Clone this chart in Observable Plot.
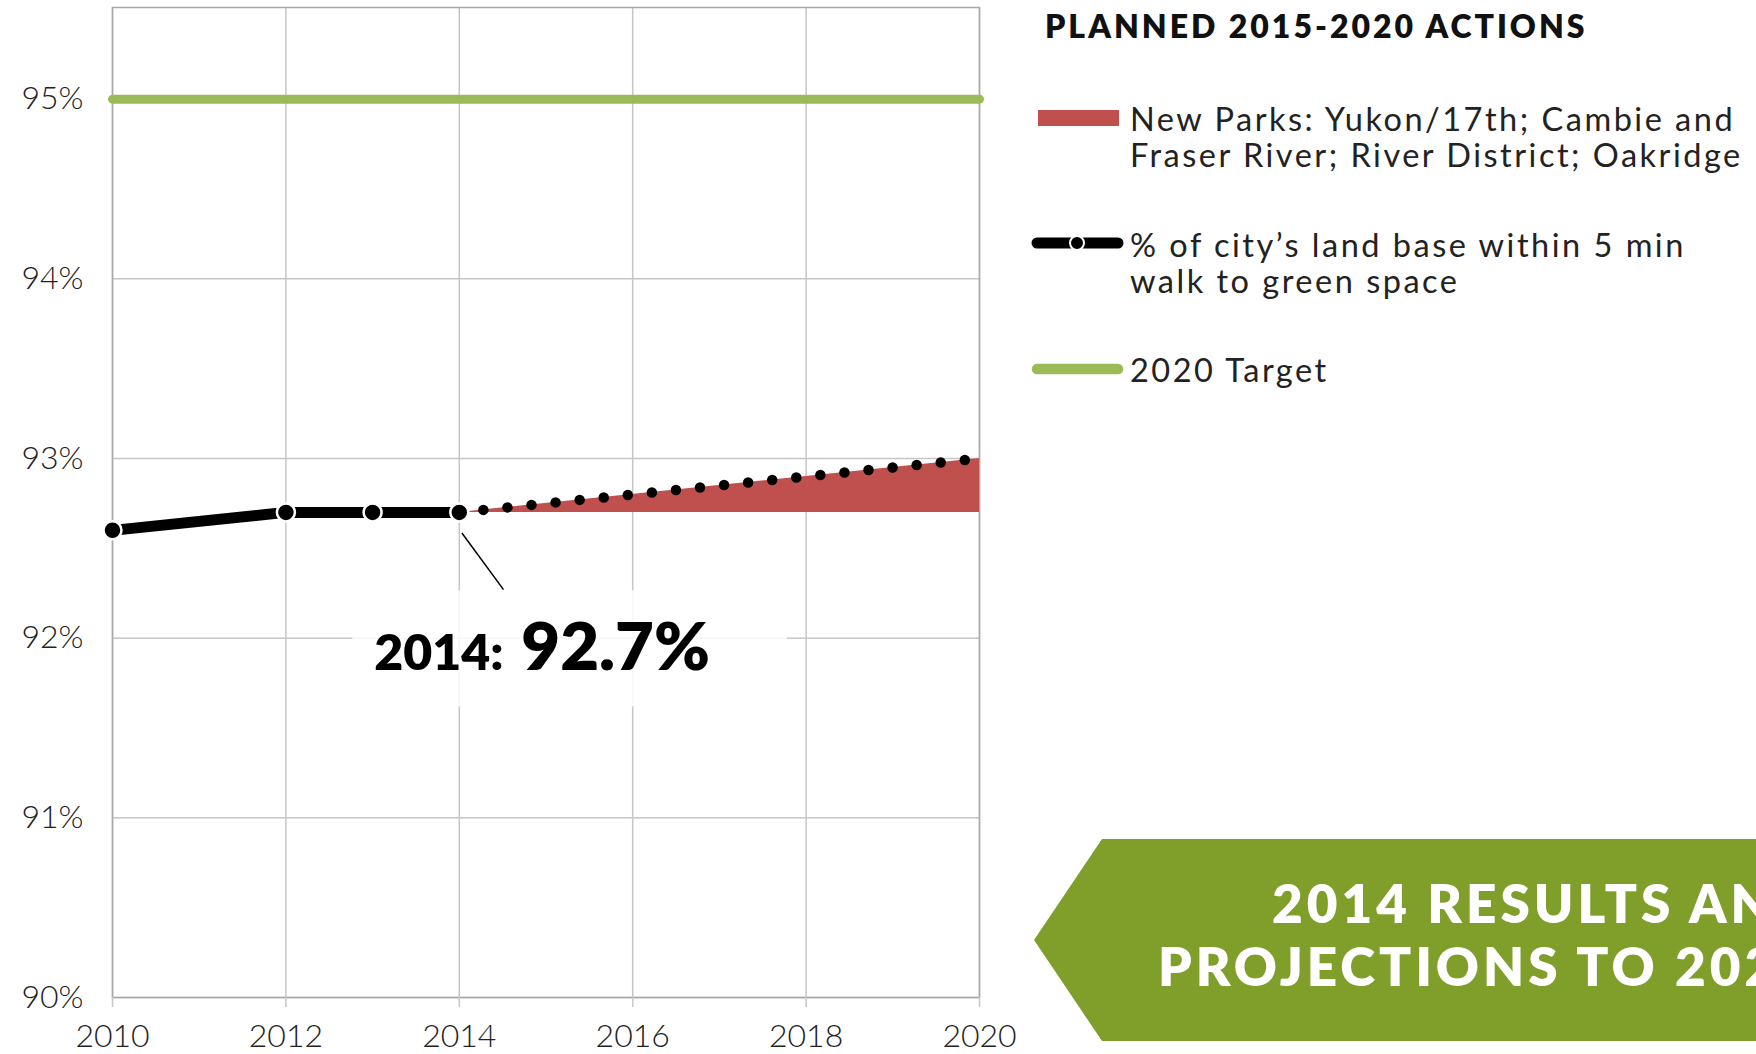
<!DOCTYPE html>
<html>
<head>
<meta charset="utf-8">
<script src="https://cdn.jsdelivr.net/npm/d3@7"></script>
<script src="https://cdn.jsdelivr.net/npm/@observablehq/plot@0.6"></script>
<style>
  html, body { margin: 0; padding: 0; background: #fff; overflow: hidden; }
  #wrap { position: relative; width: 1756px; height: 1054px; overflow: hidden; font-family: Lato, sans-serif; }
  #wrap > svg { position: absolute; left: 0; top: 0; }
</style>
</head>
<body>
<div id="wrap"></div>
<script>
// ---- data ----
const years = [2010, 2012, 2013, 2014];
const shares = [92.6, 92.7, 92.7, 92.7];
const projYears = [2014, 2020];
const projShares = [92.7, 93.0];
const projBase = [92.7, 92.7];
const targetYears = [2010, 2020];
const targetShares = [95, 95];
const xTicks = [2010, 2012, 2014, 2016, 2018, 2020];
const yTicks = [90, 91, 92, 93, 94, 95];
const annoYear = [2014];
const annoValue = [92.7];
const annoLabel = ["2014:"];
const annoBig = ["92.7%"];
const legendTitle = "PLANNED 2015-2020 ACTIONS";
const legendLabels = [
  ["New Parks: Yukon/17th; Cambie and", "Fraser River; River District; Oakridge"],
  ["% of city\u2019s land base within 5 min", "walk to green space"],
  ["2020 Target"]
];
const bannerLines = ["2014 RESULTS AND", "PROJECTIONS TO 2020"];

// ---- colours ----
const RED = "#C0504D", GREEN = "#9BBB59", BANNER = "#7F9F2A", GRID = "#c6c6c6";

const actual = years.map((x, i) => ({x, y: shares[i]}));
const proj = projYears.map((x, i) => ({x, y: projShares[i], y0: projBase[i]}));
const target = targetYears.map((x, i) => ({x, y: targetShares[i]}));
const anno = annoYear.map((x, i) => ({x, y: annoValue[i], a: annoLabel[i], b: annoBig[i]}));

const chart = Plot.plot({
  width: 1756, height: 1054,
  marginLeft: 112, marginRight: 777, marginTop: 7, marginBottom: 57,
  x: {type: "linear", domain: [2010, 2020]},
  y: {domain: [90, 95.51]},
  style: {fontFamily: "Lato, sans-serif", fontSize: "32px", color: "#222", background: "transparent"},
  marks: [
    Plot.gridX(xTicks, {stroke: GRID, strokeOpacity: 1, strokeWidth: 1.5}),
    Plot.gridY(yTicks, {stroke: GRID, strokeOpacity: 1, strokeWidth: 1.5}),
    Plot.frame({stroke: "#a8a8a8", strokeWidth: 1.5}),
    Plot.axisX({ticks: xTicks, tickFormat: d => String(d), tickSize: 10, tickPadding: 17,
      stroke: GRID, strokeWidth: 1.5, fill: "#222", fontSize: 32, fontWeight: 300, letterSpacing: 1.2, label: null}),
    Plot.axisY({ticks: yTicks, tickFormat: d => d + "%", tickSize: 0, tickPadding: 29,
      fill: "#222", fontSize: 32, fontWeight: 300, letterSpacing: 1.2, label: null}),
    Plot.areaY(proj, {x: "x", y1: "y0", y2: "y", fill: RED}),
    Plot.line(target, {x: "x", y: "y", stroke: GREEN, strokeWidth: 9}),
    Plot.line(actual, {x: "x", y: "y", stroke: "black", strokeWidth: 11}),
    Plot.line(proj, {x: "x", y: "y", stroke: "black", strokeWidth: 10.5, strokeLinecap: "round", strokeDasharray: "0 24.2"}),
    Plot.dot(actual, {x: "x", y: "y", r: 9, fill: "black", stroke: "white", strokeWidth: 2.5}),
    Plot.link(anno, {x1: d => d.x + 0.03, y1: d => d.y - 0.115, x2: d => d.x + 0.51, y2: d => d.y - 0.43, stroke: "black", strokeWidth: 1.5}),
    Plot.text(anno, {x: "x", y: "y", text: "a", dx: -85, dy: 158, textAnchor: "start", lineAnchor: "bottom",
      fontSize: 50, fontWeight: 800, fill: "black", letterSpacing: 2, className: "anno-text"}),
    Plot.text(anno, {x: "x", y: "y", text: "b", dx: 62, dy: 158, textAnchor: "start", lineAnchor: "bottom",
      fontSize: 67, fontWeight: 800, fill: "black", letterSpacing: 3, className: "anno-text"})
  ]
});
document.getElementById("wrap").appendChild(chart);

// light white box behind the annotation text (measured from the rendered text)
{
  const groups = chart.querySelectorAll(".anno-text");
  const sb = chart.getBoundingClientRect();
  let x0 = Infinity, y0 = Infinity, x1 = -Infinity, y1 = -Infinity;
  groups.forEach(g => g.querySelectorAll("text").forEach(t => {
    const b = t.getBoundingClientRect();
    x0 = Math.min(x0, b.left - sb.left); y0 = Math.min(y0, b.top - sb.top);
    x1 = Math.max(x1, b.right - sb.left); y1 = Math.max(y1, b.bottom - sb.top);
  }));
  if (groups.length && isFinite(x0)) {
    const r = document.createElementNS("http://www.w3.org/2000/svg", "rect");
    r.setAttribute("x", x0 - 22); r.setAttribute("y", y0 - 14);
    r.setAttribute("width", x1 - x0 + 99); r.setAttribute("height", y1 - y0 + 36);
    r.setAttribute("fill", "white"); r.setAttribute("fill-opacity", 0.85);
    groups[0].parentNode.insertBefore(r, groups[0]);
  }
}

// ---- legend & banner overlay ----
const ov = d3.select("#wrap").append("svg").attr("width", 1756).attr("height", 1054)
  .style("font-family", "Lato, sans-serif");

ov.append("text").attr("x", 1045).attr("y", 38).text(legendTitle)
  .attr("font-size", 32).attr("font-weight", 800).attr("letter-spacing", 3).attr("fill", "#111");

const textX = 1130;
const itemBaselines = [131, 257, 382];
const lineGap = 36;
legendLabels.forEach((lines, i) => {
  const t = ov.append("text").attr("x", textX).attr("y", itemBaselines[i])
    .attr("font-size", 32.5).attr("font-weight", 400).attr("letter-spacing", 2.5).attr("fill", "#222");
  lines.forEach((s, j) => t.append("tspan").attr("x", textX).attr("dy", j === 0 ? 0 : lineGap).text(s));
});
// symbols
ov.append("rect").attr("x", 1038).attr("y", 110).attr("width", 81).attr("height", 16).attr("fill", RED);
ov.append("line").attr("x1", 1037).attr("x2", 1118).attr("y1", 243).attr("y2", 243)
  .attr("stroke", "black").attr("stroke-width", 11).attr("stroke-linecap", "round");
ov.append("circle").attr("cx", 1077).attr("cy", 243).attr("r", 7).attr("fill", "black").attr("stroke", "white").attr("stroke-width", 2);
ov.append("line").attr("x1", 1037).attr("x2", 1118).attr("y1", 369).attr("y2", 369)
  .attr("stroke", GREEN).attr("stroke-width", 10.5).attr("stroke-linecap", "round");

// banner
ov.append("polygon").attr("points", "1034,940 1102,839 1780,839 1780,1041 1102,1041").attr("fill", BANNER);
const bannerX = [1272, 1158];
const bannerY = [923, 986];
bannerLines.forEach((s, i) => ov.append("text").attr("x", bannerX[i]).attr("y", bannerY[i]).text(s)
  .attr("font-size", 53).attr("font-weight", 800).attr("letter-spacing", 4).attr("fill", "white"));
</script>
</body>
</html>
